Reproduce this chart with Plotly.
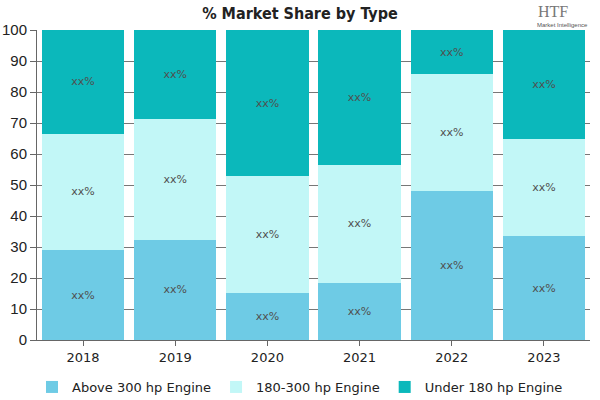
import plotly.graph_objects as go

years = ["2018", "2019", "2020", "2021", "2022", "2023"]
above_300 = [29.0, 32.3, 15.2, 18.4, 48.1, 33.5]
hp_180_300 = [37.5, 39.0, 37.7, 38.1, 37.7, 31.3]
under_180 = [33.5, 28.7, 47.1, 43.5, 14.2, 35.2]
series_names = ["Above 300 hp Engine", "180-300 hp Engine", "Under 180 hp Engine"]
colors = ["#6ECBE5", "#C2F7F7", "#0BB8BB"]
label_text = "xx%"

fig = go.Figure()
for name, vals, col in zip(series_names, [above_300, hp_180_300, under_180], colors):
    fig.add_trace(go.Bar(
        x=years, y=vals, name=name, marker=dict(color=col, line=dict(width=0)),
        text=[label_text] * len(vals), textposition="inside",
        insidetextanchor="middle", textangle=0, constraintext="none",
        textfont=dict(family="DejaVu Sans", size=11, color="#505050"),
        hoverinfo="skip",
    ))

L, R, T, B = 37, 10, 30, 60
PW, PH = 600 - L - R, 400 - T - B

def px_x(px):
    return (px - L) / PW

def px_y(py):
    return (400 - B - py) / PH

fig.update_layout(
    barmode="stack", bargap=0.105,
    width=600, height=400,
    margin=dict(l=L, r=R, t=T, b=B, autoexpand=False),
    paper_bgcolor="white", plot_bgcolor="white",
    title=dict(text="<b>% Market Share by Type</b>", x=0.5, xanchor="center",
               y=1 - 13 / 400, yanchor="middle",
               font=dict(family="DejaVu Sans Condensed, Liberation Sans", size=16, color="#222222")),
    legend=dict(orientation="h", xref="container", x=0.5, xanchor="center",
                y=px_y(387), yanchor="middle",
                font=dict(family="DejaVu Sans", size=13, color="#222222"),
                itemwidth=30, traceorder="normal"),
    showlegend=True,
    xaxis=dict(showline=True, linecolor="#666666", linewidth=1, ticks="outside",
               ticklen=5, tickcolor="#666666", automargin=False,
               tickfont=dict(family="DejaVu Sans", size=13, color="#222222")),
    yaxis=dict(range=[0, 100], dtick=10, showline=True, linecolor="#666666", linewidth=1,
               ticks="outside", ticklen=6, tickcolor="#666666", automargin=False,
               showgrid=True, gridcolor="#777777", gridwidth=1, zeroline=False,
               tickfont=dict(family="Liberation Sans", size=15, color="#222222")),
)
fig.add_annotation(text="HTF", xref="paper", yref="paper", x=px_x(553), y=px_y(12),
                   xanchor="center", yanchor="middle", showarrow=False,
                   font=dict(family="Liberation Serif", size=16, color="#777777"))
fig.add_annotation(text="Market Intelligence", xref="paper", yref="paper", x=px_x(562),
                   y=px_y(25), xanchor="center", yanchor="middle", showarrow=False,
                   font=dict(family="Liberation Sans", size=6, color="#555555"))

fig.write_html("out.html")
